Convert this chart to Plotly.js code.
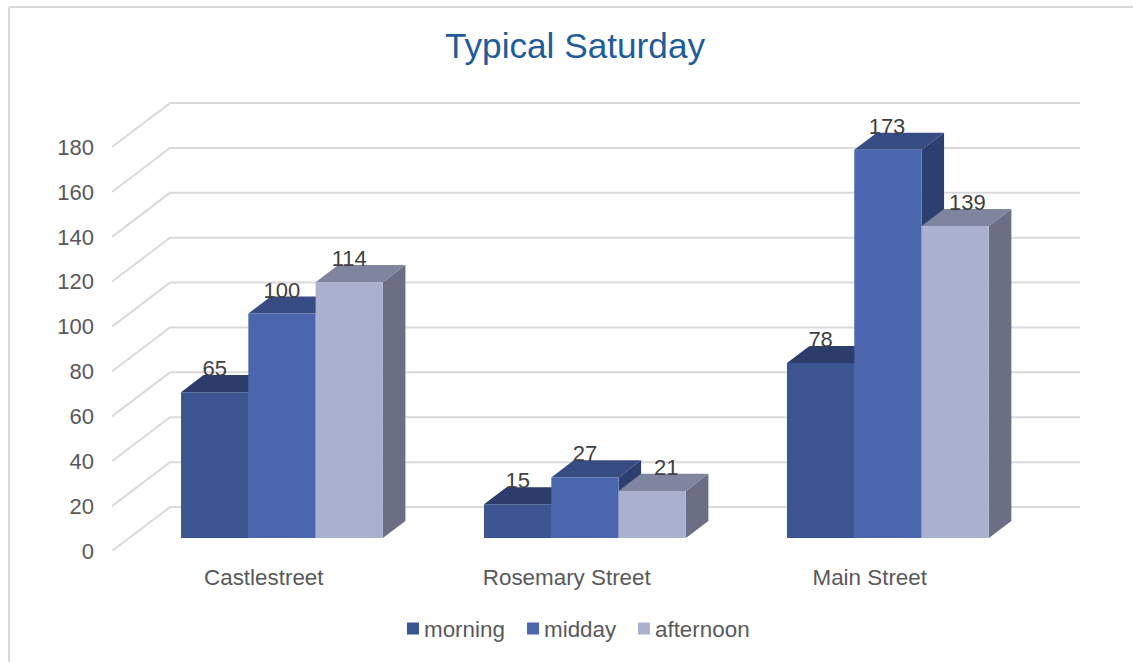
<!DOCTYPE html>
<html>
<head>
<meta charset="utf-8">
<script src="https://cdn.plot.ly/plotly-3.0.1.min.js"></script>
<style>html,body{margin:0;padding:0;background:#fff;overflow:hidden}#chart{width:1133px;height:662px}</style>
</head>
<body>
<div id="chart"></div>
<script>
const categories = ['Castlestreet', 'Rosemary Street', 'Main Street'];
const seriesNames = ['morning', 'midday', 'afternoon'];
const morning = [65, 15, 78];
const midday = [100, 27, 173];
const afternoon = [114, 21, 139];
const gridTicks = [0, 20, 40, 60, 80, 100, 120, 140, 160, 180];

const frontColors = ['#3B5590', '#4A66AC', '#A9B1CF'];
const topColors = ['#2C3C6B', '#364C82', '#80859F'];
const sideColors = ['#283863', '#2D3F6E', '#6A6F86'];

const allSeries = [morning, midday, afternoon];
const FONT = '"Liberation Sans", Arial, sans-serif';

// Scale: 303 px per category, 2.244 px per value unit
const xRange = [-0.561, 2.634];
const wallRange = [0, 203.2];
const barRange = [-5.79, 197.4];
const barWidth = 0.2221;
const barDepthX = 0.0743, barDepthY = 7.6;
const wallDepthX = 0.1914, wallDepthY = 19.6;
const labelLift = 9.6;
const categoryLabelShift = -0.06;
// Two data labels in the reference sit right of their bar's centre
const labelNudge = [[0, 0, 0], [0, 0, -0.003], [0, 0.046, 0.04]];

const traces = [];

// Walls: floor/side diagonals and back-wall grid lines
const gx = [], gy = [];
gridTicks.forEach(v => {
  gx.push(xRange[0], xRange[0] + wallDepthX, xRange[1], null);
  gy.push(v, v + wallDepthY, v + wallDepthY, null);
});
traces.push({type: 'scatter', mode: 'lines', x: gx, y: gy, xaxis: 'x', yaxis: 'y',
  line: {color: '#DADADA', width: 2}, hoverinfo: 'skip', showlegend: false});

// Side and top faces of each box
allSeries.forEach((vals, k) => {
  const sx = [], sy = [], tx = [], ty = [];
  vals.forEach((v, i) => {
    const left = i + (k - 1.5) * barWidth, right = left + barWidth;
    sx.push(right, right + barDepthX, right + barDepthX, right, right, null);
    sy.push(0, barDepthY, v + barDepthY, v, 0, null);
    tx.push(left, left + barDepthX, right + barDepthX, right, left, null);
    ty.push(v, v + barDepthY, v + barDepthY, v, v, null);
  });
  traces.push({type: 'scatter', mode: 'lines', x: sx, y: sy, xaxis: 'x', yaxis: 'y2', fill: 'toself',
    fillcolor: sideColors[k], line: {width: 0, color: sideColors[k]}, hoverinfo: 'skip', showlegend: false});
  traces.push({type: 'scatter', mode: 'lines', x: tx, y: ty, xaxis: 'x', yaxis: 'y2', fill: 'toself',
    fillcolor: topColors[k], line: {width: 0, color: topColors[k]}, hoverinfo: 'skip', showlegend: false});
});

// Front faces
const xPos = categories.map((_, i) => i);
allSeries.forEach((vals, k) => {
  traces.push({type: 'bar', name: seriesNames[k], x: xPos, y: vals, xaxis: 'x', yaxis: 'y3',
    marker: {color: frontColors[k]}, legend: k === 0 ? 'legend' : 'legend' + (k + 1),
    hovertemplate: '%{y}<extra>' + seriesNames[k] + '</extra>'});
});

// Data labels
allSeries.forEach((vals, k) => {
  traces.push({type: 'scatter', mode: 'text', xaxis: 'x', yaxis: 'y3',
    x: vals.map((_, i) => i + (k - 1) * barWidth + labelNudge[k][i]),
    y: vals.map(v => v + labelLift),
    text: vals.map(String), textposition: 'middle center', cliponaxis: false,
    textfont: {family: FONT, size: 22, color: '#404040'}, hoverinfo: 'skip', showlegend: false});
});

const legendBase = {orientation: 'h', xanchor: 'left', yanchor: 'middle', y: -0.171,
  bgcolor: 'rgba(0,0,0,0)', borderwidth: 0, font: {family: FONT, size: 22.4, color: '#595959'}};

const layout = {
  width: 1133, height: 662,
  margin: {l: 112, r: 53, t: 95, b: 111, pad: 0, autoexpand: false},
  paper_bgcolor: '#FFFFFF', plot_bgcolor: 'rgba(0,0,0,0)',
  font: {family: FONT},
  title: {text: 'Typical Saturday', x: 0.5075, xref: 'container', xanchor: 'center', y: 0.9305, yref: 'container', yanchor: 'middle',
    font: {family: FONT, size: 35.2, color: '#1F5C99'}},
  barmode: 'group', bargap: 0.3337, bargroupgap: 0,
  hovermode: 'closest',
  xaxis: {range: xRange, tickmode: 'array', tickvals: categories.map((_, i) => i + categoryLabelShift), ticktext: categories,
    showgrid: false, zeroline: false, showline: false, ticks: '', ticklabelstandoff: 11,
    tickfont: {family: FONT, size: 22.4, color: '#595959'}},
  yaxis: {range: wallRange, tickmode: 'array', tickvals: gridTicks, ticktext: gridTicks.map(String),
    showgrid: false, zeroline: false, showline: false, ticks: '', ticklabelstandoff: 17,
    tickfont: {family: FONT, size: 22, color: '#595959'}},
  yaxis2: {range: barRange, overlaying: 'y', visible: false},
  yaxis3: {range: barRange, overlaying: 'y', visible: false},
  legend: Object.assign({}, legendBase, {x: 0.2810}),
  legend2: Object.assign({}, legendBase, {x: 0.4050}),
  legend3: Object.assign({}, legendBase, {x: 0.5196}),
  showlegend: true,
  shapes: [
    {type: 'line', xref: 'paper', yref: 'paper', x0: -0.1064, x1: -0.1064, y0: 1.1930, y1: -0.2434, line: {color: '#D9D9D9', width: 2}},
    {type: 'line', xref: 'paper', yref: 'paper', x0: -0.1064, x1: 1.0548, y0: 1.1930, y1: 1.1930, line: {color: '#D9D9D9', width: 2}}
  ]
};

const gd = document.getElementById('chart');
function nudgeSwatches() {
  gd.querySelectorAll('.legendpoints path').forEach(p => {
    p.setAttribute('transform', 'translate(29,0)');
  });
}
Plotly.newPlot(gd, traces, layout, {displayModeBar: false}).then(() => {
  nudgeSwatches();
  gd.on('plotly_afterplot', nudgeSwatches);
});
</script>
</body>
</html>
